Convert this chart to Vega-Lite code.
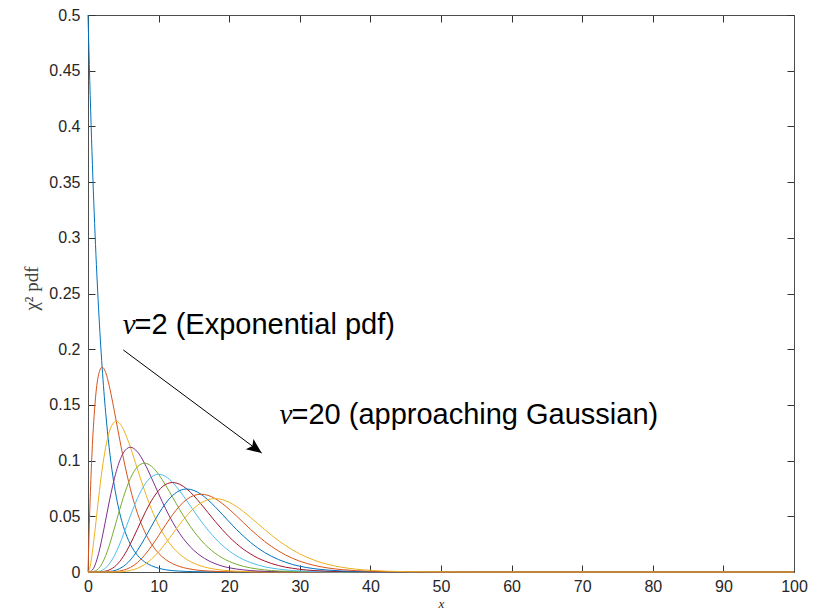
{
"$schema":"https://vega.github.io/schema/vega-lite/v6.json",
"autosize":{"type":"none"},
"padding":{"left":88,"top":15,"right":32,"bottom":38},
"width":706,"height":557,
"background":"white",
"config":{"view":{"stroke":null},"axis":{"labelFont":"Liberation Sans","labelFontSize":16,"labelColor":"#262626","domainColor":"#4d4d4d","domainWidth":1,"tickColor":"#333333","tickWidth":1,"tickSize":-7,"grid":false,"labelFlush":false,"labelOverlap":false}},
"datasets":{
"curves":[
{"n":2,"x":0,"y":0.5},{"n":2,"x":0.25,"y":0.4412},{"n":2,"x":0.5,"y":0.3894},{"n":2,"x":1,"y":0.3033},{"n":2,"x":1.5,"y":0.2362},{"n":2,"x":2,"y":0.1839},{"n":2,"x":2.5,"y":0.1433},{"n":2,"x":3,"y":0.1116},{"n":2,"x":3.5,"y":0.0869},{"n":2,"x":4,"y":0.0677},{"n":2,"x":4.5,"y":0.0527},{"n":2,"x":5,"y":0.041},{"n":2,"x":6,"y":0.0249},{"n":2,"x":7,"y":0.0151},{"n":2,"x":8,"y":0.0092},{"n":2,"x":9,"y":0.0056},{"n":2,"x":10,"y":0.0034},{"n":2,"x":11,"y":0.002},{"n":2,"x":12,"y":0.0012},{"n":2,"x":13,"y":0.0008},{"n":2,"x":14,"y":0.0005},{"n":2,"x":15,"y":0.0003},{"n":2,"x":16,"y":0.0002},{"n":2,"x":17,"y":0.0001},{"n":2,"x":18,"y":0.0001},{"n":2,"x":20,"y":0},{"n":2,"x":100,"y":0},
{"n":4,"x":0,"y":0},{"n":4,"x":0.25,"y":0.0552},{"n":4,"x":0.5,"y":0.0974},{"n":4,"x":1,"y":0.1516},{"n":4,"x":1.5,"y":0.1771},{"n":4,"x":2,"y":0.1839},{"n":4,"x":2.5,"y":0.1791},{"n":4,"x":3,"y":0.1673},{"n":4,"x":3.5,"y":0.1521},{"n":4,"x":4,"y":0.1353},{"n":4,"x":4.5,"y":0.1186},{"n":4,"x":5,"y":0.1026},{"n":4,"x":6,"y":0.0747},{"n":4,"x":7,"y":0.0528},{"n":4,"x":8,"y":0.0366},{"n":4,"x":9,"y":0.025},{"n":4,"x":10,"y":0.0168},{"n":4,"x":11,"y":0.0112},{"n":4,"x":12,"y":0.0074},{"n":4,"x":13,"y":0.0049},{"n":4,"x":14,"y":0.0032},{"n":4,"x":15,"y":0.0021},{"n":4,"x":16,"y":0.0013},{"n":4,"x":17,"y":0.0009},{"n":4,"x":18,"y":0.0006},{"n":4,"x":19,"y":0.0004},{"n":4,"x":20,"y":0.0002},{"n":4,"x":21,"y":0.0001},{"n":4,"x":22,"y":0.0001},{"n":4,"x":24,"y":0},{"n":4,"x":100,"y":0},
{"n":6,"x":0,"y":0},{"n":6,"x":0.25,"y":0.0034},{"n":6,"x":0.5,"y":0.0122},{"n":6,"x":1,"y":0.0379},{"n":6,"x":1.5,"y":0.0664},{"n":6,"x":2,"y":0.092},{"n":6,"x":2.5,"y":0.1119},{"n":6,"x":3,"y":0.1255},{"n":6,"x":3.5,"y":0.133},{"n":6,"x":4,"y":0.1353},{"n":6,"x":4.5,"y":0.1334},{"n":6,"x":5,"y":0.1283},{"n":6,"x":6,"y":0.112},{"n":6,"x":7,"y":0.0925},{"n":6,"x":8,"y":0.0733},{"n":6,"x":9,"y":0.0562},{"n":6,"x":10,"y":0.0421},{"n":6,"x":11,"y":0.0309},{"n":6,"x":12,"y":0.0223},{"n":6,"x":13,"y":0.0159},{"n":6,"x":14,"y":0.0112},{"n":6,"x":15,"y":0.0078},{"n":6,"x":16,"y":0.0054},{"n":6,"x":17,"y":0.0037},{"n":6,"x":18,"y":0.0025},{"n":6,"x":19,"y":0.0017},{"n":6,"x":20,"y":0.0011},{"n":6,"x":21,"y":0.0008},{"n":6,"x":22,"y":0.0005},{"n":6,"x":23,"y":0.0003},{"n":6,"x":24,"y":0.0002},{"n":6,"x":25,"y":0.0001},{"n":6,"x":26,"y":0.0001},{"n":6,"x":28,"y":0},{"n":6,"x":100,"y":0},
{"n":8,"x":0,"y":0},{"n":8,"x":0.5,"y":0.001},{"n":8,"x":1,"y":0.0063},{"n":8,"x":1.5,"y":0.0166},{"n":8,"x":2,"y":0.0307},{"n":8,"x":2.5,"y":0.0466},{"n":8,"x":3,"y":0.0628},{"n":8,"x":3.5,"y":0.0776},{"n":8,"x":4,"y":0.0902},{"n":8,"x":4.5,"y":0.1},{"n":8,"x":5,"y":0.1069},{"n":8,"x":6,"y":0.112},{"n":8,"x":7,"y":0.1079},{"n":8,"x":8,"y":0.0977},{"n":8,"x":9,"y":0.0844},{"n":8,"x":10,"y":0.0702},{"n":8,"x":11,"y":0.0567},{"n":8,"x":12,"y":0.0446},{"n":8,"x":13,"y":0.0344},{"n":8,"x":14,"y":0.0261},{"n":8,"x":15,"y":0.0194},{"n":8,"x":16,"y":0.0143},{"n":8,"x":17,"y":0.0104},{"n":8,"x":18,"y":0.0075},{"n":8,"x":19,"y":0.0053},{"n":8,"x":20,"y":0.0038},{"n":8,"x":21,"y":0.0027},{"n":8,"x":22,"y":0.0019},{"n":8,"x":23,"y":0.0013},{"n":8,"x":24,"y":0.0009},{"n":8,"x":25,"y":0.0006},{"n":8,"x":26,"y":0.0004},{"n":8,"x":27,"y":0.0003},{"n":8,"x":28,"y":0.0002},{"n":8,"x":29,"y":0.0001},{"n":8,"x":30,"y":0.0001},{"n":8,"x":32,"y":0},{"n":8,"x":100,"y":0},
{"n":10,"x":0,"y":0},{"n":10,"x":0.5,"y":0.0001},{"n":10,"x":1,"y":0.0008},{"n":10,"x":1.5,"y":0.0031},{"n":10,"x":2,"y":0.0077},{"n":10,"x":2.5,"y":0.0146},{"n":10,"x":3,"y":0.0235},{"n":10,"x":3.5,"y":0.034},{"n":10,"x":4,"y":0.0451},{"n":10,"x":4.5,"y":0.0563},{"n":10,"x":5,"y":0.0668},{"n":10,"x":6,"y":0.084},{"n":10,"x":7,"y":0.0944},{"n":10,"x":8,"y":0.0977},{"n":10,"x":9,"y":0.0949},{"n":10,"x":10,"y":0.0877},{"n":10,"x":11,"y":0.0779},{"n":10,"x":12,"y":0.0669},{"n":10,"x":13,"y":0.0559},{"n":10,"x":14,"y":0.0456},{"n":10,"x":15,"y":0.0365},{"n":10,"x":16,"y":0.0286},{"n":10,"x":17,"y":0.0221},{"n":10,"x":18,"y":0.0169},{"n":10,"x":19,"y":0.0127},{"n":10,"x":20,"y":0.0095},{"n":10,"x":21,"y":0.007},{"n":10,"x":22,"y":0.0051},{"n":10,"x":23,"y":0.0037},{"n":10,"x":24,"y":0.0027},{"n":10,"x":25,"y":0.0019},{"n":10,"x":26,"y":0.0013},{"n":10,"x":27,"y":0.0009},{"n":10,"x":28,"y":0.0007},{"n":10,"x":29,"y":0.0005},{"n":10,"x":30,"y":0.0003},{"n":10,"x":32,"y":0.0002},{"n":10,"x":34,"y":0.0001},{"n":10,"x":36,"y":0},{"n":10,"x":100,"y":0},
{"n":12,"x":0,"y":0},{"n":12,"x":1,"y":0.0001},{"n":12,"x":1.5,"y":0.0005},{"n":12,"x":2,"y":0.0015},{"n":12,"x":2.5,"y":0.0036},{"n":12,"x":3,"y":0.0071},{"n":12,"x":3.5,"y":0.0119},{"n":12,"x":4,"y":0.018},{"n":12,"x":4.5,"y":0.0253},{"n":12,"x":5,"y":0.0334},{"n":12,"x":6,"y":0.0504},{"n":12,"x":7,"y":0.0661},{"n":12,"x":8,"y":0.0781},{"n":12,"x":9,"y":0.0854},{"n":12,"x":10,"y":0.0877},{"n":12,"x":11,"y":0.0857},{"n":12,"x":12,"y":0.0803},{"n":12,"x":13,"y":0.0727},{"n":12,"x":14,"y":0.0639},{"n":12,"x":15,"y":0.0547},{"n":12,"x":16,"y":0.0458},{"n":12,"x":17,"y":0.0376},{"n":12,"x":18,"y":0.0304},{"n":12,"x":19,"y":0.0241},{"n":12,"x":20,"y":0.0189},{"n":12,"x":21,"y":0.0146},{"n":12,"x":22,"y":0.0112},{"n":12,"x":23,"y":0.0085},{"n":12,"x":24,"y":0.0064},{"n":12,"x":25,"y":0.0047},{"n":12,"x":26,"y":0.0035},{"n":12,"x":27,"y":0.0026},{"n":12,"x":28,"y":0.0019},{"n":12,"x":29,"y":0.0013},{"n":12,"x":30,"y":0.001},{"n":12,"x":32,"y":0.0005},{"n":12,"x":34,"y":0.0002},{"n":12,"x":36,"y":0.0001},{"n":12,"x":38,"y":0.0001},{"n":12,"x":40,"y":0},{"n":12,"x":100,"y":0},
{"n":14,"x":0,"y":0},{"n":14,"x":1.5,"y":0.0001},{"n":14,"x":2,"y":0.0003},{"n":14,"x":2.5,"y":0.0008},{"n":14,"x":3,"y":0.0018},{"n":14,"x":3.5,"y":0.0035},{"n":14,"x":4,"y":0.006},{"n":14,"x":4.5,"y":0.0095},{"n":14,"x":5,"y":0.0139},{"n":14,"x":6,"y":0.0252},{"n":14,"x":7,"y":0.0385},{"n":14,"x":8,"y":0.0521},{"n":14,"x":9,"y":0.0641},{"n":14,"x":10,"y":0.0731},{"n":14,"x":11,"y":0.0786},{"n":14,"x":12,"y":0.0803},{"n":14,"x":13,"y":0.0787},{"n":14,"x":14,"y":0.0745},{"n":14,"x":15,"y":0.0684},{"n":14,"x":16,"y":0.0611},{"n":14,"x":17,"y":0.0533},{"n":14,"x":18,"y":0.0455},{"n":14,"x":19,"y":0.0382},{"n":14,"x":20,"y":0.0315},{"n":14,"x":21,"y":0.0256},{"n":14,"x":22,"y":0.0205},{"n":14,"x":23,"y":0.0163},{"n":14,"x":24,"y":0.0127},{"n":14,"x":25,"y":0.0099},{"n":14,"x":26,"y":0.0076},{"n":14,"x":27,"y":0.0058},{"n":14,"x":28,"y":0.0043},{"n":14,"x":29,"y":0.0033},{"n":14,"x":30,"y":0.0024},{"n":14,"x":32,"y":0.0013},{"n":14,"x":34,"y":0.0007},{"n":14,"x":36,"y":0.0004},{"n":14,"x":38,"y":0.0002},{"n":14,"x":40,"y":0.0001},{"n":14,"x":45,"y":0},{"n":14,"x":100,"y":0},
{"n":16,"x":0,"y":0},{"n":16,"x":2.5,"y":0.0001},{"n":16,"x":3,"y":0.0004},{"n":16,"x":3.5,"y":0.0009},{"n":16,"x":4,"y":0.0017},{"n":16,"x":4.5,"y":0.0031},{"n":16,"x":5,"y":0.005},{"n":16,"x":6,"y":0.0108},{"n":16,"x":7,"y":0.0193},{"n":16,"x":8,"y":0.0298},{"n":16,"x":9,"y":0.0412},{"n":16,"x":10,"y":0.0522},{"n":16,"x":11,"y":0.0617},{"n":16,"x":12,"y":0.0688},{"n":16,"x":13,"y":0.0731},{"n":16,"x":14,"y":0.0745},{"n":16,"x":15,"y":0.0732},{"n":16,"x":16,"y":0.0698},{"n":16,"x":17,"y":0.0647},{"n":16,"x":18,"y":0.0586},{"n":16,"x":19,"y":0.0519},{"n":16,"x":20,"y":0.045},{"n":16,"x":21,"y":0.0384},{"n":16,"x":22,"y":0.0323},{"n":16,"x":23,"y":0.0267},{"n":16,"x":24,"y":0.0218},{"n":16,"x":25,"y":0.0176},{"n":16,"x":26,"y":0.0141},{"n":16,"x":27,"y":0.0111},{"n":16,"x":28,"y":0.0087},{"n":16,"x":29,"y":0.0067},{"n":16,"x":30,"y":0.0052},{"n":16,"x":32,"y":0.003},{"n":16,"x":34,"y":0.0017},{"n":16,"x":36,"y":0.0009},{"n":16,"x":38,"y":0.0005},{"n":16,"x":40,"y":0.0003},{"n":16,"x":45,"y":0},{"n":16,"x":100,"y":0},
{"n":18,"x":0,"y":0},{"n":18,"x":3,"y":0.0001},{"n":18,"x":3.5,"y":0.0002},{"n":18,"x":4,"y":0.0004},{"n":18,"x":4.5,"y":0.0009},{"n":18,"x":5,"y":0.0016},{"n":18,"x":6,"y":0.0041},{"n":18,"x":7,"y":0.0084},{"n":18,"x":8,"y":0.0149},{"n":18,"x":9,"y":0.0232},{"n":18,"x":10,"y":0.0326},{"n":18,"x":11,"y":0.0424},{"n":18,"x":12,"y":0.0516},{"n":18,"x":13,"y":0.0594},{"n":18,"x":14,"y":0.0652},{"n":18,"x":15,"y":0.0687},{"n":18,"x":16,"y":0.0698},{"n":18,"x":17,"y":0.0688},{"n":18,"x":18,"y":0.0659},{"n":18,"x":19,"y":0.0616},{"n":18,"x":20,"y":0.0563},{"n":18,"x":21,"y":0.0505},{"n":18,"x":22,"y":0.0444},{"n":18,"x":23,"y":0.0384},{"n":18,"x":24,"y":0.0328},{"n":18,"x":25,"y":0.0275},{"n":18,"x":26,"y":0.0229},{"n":18,"x":27,"y":0.0188},{"n":18,"x":28,"y":0.0152},{"n":18,"x":29,"y":0.0122},{"n":18,"x":30,"y":0.0097},{"n":18,"x":32,"y":0.006},{"n":18,"x":34,"y":0.0036},{"n":18,"x":36,"y":0.0021},{"n":18,"x":38,"y":0.0012},{"n":18,"x":40,"y":0.0007},{"n":18,"x":45,"y":0.0001},{"n":18,"x":50,"y":0},{"n":18,"x":100,"y":0},
{"n":20,"x":0,"y":0},{"n":20,"x":4,"y":0.0001},{"n":20,"x":4.5,"y":0.0002},{"n":20,"x":5,"y":0.0004},{"n":20,"x":6,"y":0.0014},{"n":20,"x":7,"y":0.0033},{"n":20,"x":8,"y":0.0066},{"n":20,"x":9,"y":0.0116},{"n":20,"x":10,"y":0.0181},{"n":20,"x":11,"y":0.0259},{"n":20,"x":12,"y":0.0344},{"n":20,"x":13,"y":0.0429},{"n":20,"x":14,"y":0.0507},{"n":20,"x":15,"y":0.0572},{"n":20,"x":16,"y":0.062},{"n":20,"x":17,"y":0.0649},{"n":20,"x":18,"y":0.0659},{"n":20,"x":19,"y":0.065},{"n":20,"x":20,"y":0.0626},{"n":20,"x":21,"y":0.0589},{"n":20,"x":22,"y":0.0543},{"n":20,"x":23,"y":0.0491},{"n":20,"x":24,"y":0.0437},{"n":20,"x":25,"y":0.0383},{"n":20,"x":26,"y":0.033},{"n":20,"x":27,"y":0.0281},{"n":20,"x":28,"y":0.0237},{"n":20,"x":29,"y":0.0197},{"n":20,"x":30,"y":0.0162},{"n":20,"x":32,"y":0.0107},{"n":20,"x":34,"y":0.0068},{"n":20,"x":36,"y":0.0042},{"n":20,"x":38,"y":0.0025},{"n":20,"x":40,"y":0.0015},{"n":20,"x":45,"y":0.0003},{"n":20,"x":50,"y":0.0001},{"n":20,"x":55,"y":0},{"n":20,"x":100,"y":0}
],
"arrow":[{"x":5.0,"y":0.1993,"x2":24.6,"y2":0.1068}],
"nu":[{"x":4.92,"y":0.2136,"t":"ν"},{"x":27.12,"y":0.1328,"t":"ν"}],
"rest":[{"x":6.59,"y":0.2136,"t":"=2 (Exponential pdf)"},{"x":28.82,"y":0.1328,"t":"=20 (approaching Gaussian)"}]
},
"layer":[
{"data":{"name":"curves"},
 "mark":{"type":"line","interpolate":"monotone","strokeWidth":1},
 "encoding":{
  "x":{"field":"x","type":"quantitative","scale":{"domain":[0,100],"nice":false,"zero":false},
   "axis":{"orient":"bottom","values":[0,10,20,30,40,50,60,70,80,90,100],"format":"d","labelPadding":13,"title":"x","titleFont":"Liberation Serif","titleFontStyle":"italic","titleFontSize":13,"titleFontWeight":"normal","titleColor":"#262626","titleBaseline":"alphabetic","titleAlign":"center","titleX":353,"titleY":35}},
  "y":{"field":"y","type":"quantitative","scale":{"domain":[0,0.5],"nice":false,"zero":false},
   "axis":{"orient":"left","values":[0,0.05,0.1,0.15,0.2,0.25,0.3,0.35,0.4,0.45,0.5],"format":"~g","labelPadding":15,"title":"χ² pdf","titleFont":"Liberation Serif","titleFontSize":19,"titleFontWeight":"normal","titleColor":"#404040","titleAngle":-90,"titleX":-51,"titleY":273,"titleAlign":"center","titleBaseline":"alphabetic"}},
  "color":{"field":"n","type":"ordinal","scale":{"domain":[2,4,6,8,10,12,14,16,18,20],"range":["#0072BD","#D95319","#EDB120","#7E2F8E","#77AC30","#4DBEEE","#A2142F","#0072BD","#D95319","#EDB120"]},"legend":null}
 }},
{"data":{"name":"arrow"},
 "mark":{"type":"rule","color":"black","strokeWidth":1},
 "encoding":{
  "x":{"field":"x","type":"quantitative","scale":{"domain":[0,100],"nice":false,"zero":false},
   "axis":{"orient":"top","labels":false,"title":null,"values":[0,10,20,30,40,50,60,70,80,90,100]}},
  "y":{"field":"y","type":"quantitative","scale":{"domain":[0,0.5],"nice":false,"zero":false},
   "axis":{"orient":"right","labels":false,"title":null,"values":[0,0.05,0.1,0.15,0.2,0.25,0.3,0.35,0.4,0.45,0.5]}},
  "x2":{"field":"x2"},
  "y2":{"field":"y2"}
 }},
{"data":{"name":"arrow"},
 "mark":{"type":"point","shape":"M0,0L0.85,2L0,1.55L-0.85,2Z","filled":true,"color":"black","opacity":1,"size":225,"angle":126.7,"strokeWidth":0},
 "encoding":{
  "x":{"field":"x2","type":"quantitative","scale":{"domain":[0,100],"nice":false,"zero":false},"axis":null},
  "y":{"field":"y2","type":"quantitative","scale":{"domain":[0,0.5],"nice":false,"zero":false},"axis":null}
 }},
{"data":{"name":"nu"},
 "mark":{"type":"text","align":"left","baseline":"alphabetic","font":"Liberation Serif","fontStyle":"italic","fontSize":29,"color":"black"},
 "encoding":{
  "x":{"field":"x","type":"quantitative","scale":{"domain":[0,100],"nice":false,"zero":false},"axis":null},
  "y":{"field":"y","type":"quantitative","scale":{"domain":[0,0.5],"nice":false,"zero":false},"axis":null},
  "text":{"field":"t"}
 }},
{"data":{"name":"rest"},
 "mark":{"type":"text","align":"left","baseline":"alphabetic","font":"Liberation Sans","fontSize":29,"color":"black"},
 "encoding":{
  "x":{"field":"x","type":"quantitative","scale":{"domain":[0,100],"nice":false,"zero":false},"axis":null},
  "y":{"field":"y","type":"quantitative","scale":{"domain":[0,0.5],"nice":false,"zero":false},"axis":null},
  "text":{"field":"t"}
 }}
],
"resolve":{"axis":{"x":"independent","y":"independent"}}
}
